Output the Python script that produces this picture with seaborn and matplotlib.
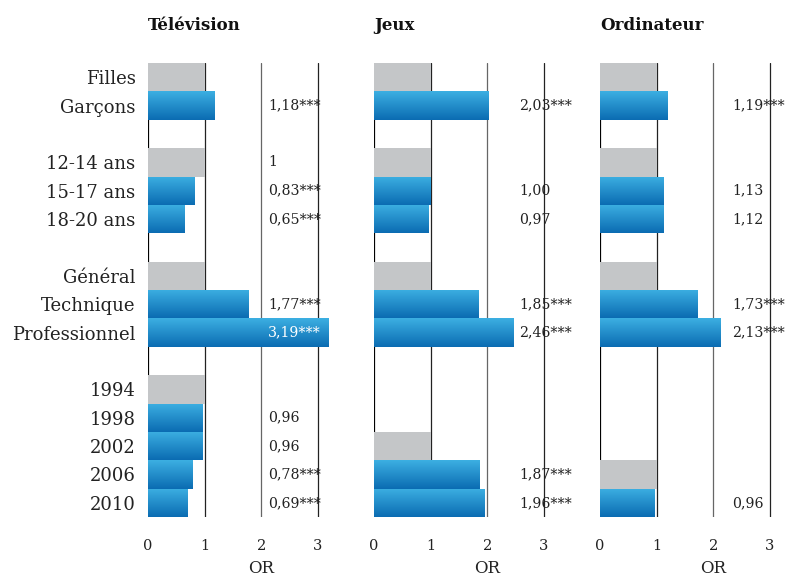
import matplotlib.pyplot as plt
import matplotlib.colors as mcolors
import numpy as np
import pandas as pd
import seaborn as sns

sns.set_theme(style="white")
plt.rcParams['font.family'] = ['DejaVu Serif']

# données (OR par catégorie)
rows = ["Filles", "Garçons", "12-14 ans", "15-17 ans", "18-20 ans",
        "Général", "Technique", "Professionnel",
        "1994", "1998", "2002", "2006", "2010"]
groups = [0, 0, 1, 1, 1, 2, 2, 2, 3, 3, 3, 3, 3]

panels = ["Télévision", "Jeux", "Ordinateur"]
tv_or = [1, 1.18, 1, 0.83, 0.65, 1, 1.77, 3.19, 1, 0.96, 0.96, 0.78, 0.69]
jeux_or = [1, 2.03, 1, 1.00, 0.97, 1, 1.85, 2.46, np.nan, np.nan, 1, 1.87, 1.96]
ordi_or = [1, 1.19, 1, 1.13, 1.12, 1, 1.73, 2.13, np.nan, np.nan, np.nan, 1, 0.96]

tv_ref = [1, 0, 1, 0, 0, 1, 0, 0, 1, 0, 0, 0, 0]
jeux_ref = [1, 0, 1, 0, 0, 1, 0, 0, 0, 0, 1, 0, 0]
ordi_ref = [1, 0, 1, 0, 0, 1, 0, 0, 0, 0, 0, 1, 0]

tv_lab = ["", "1,18***", "1", "0,83***", "0,65***", "", "1,77***", "3,19***",
          "", "0,96", "0,96", "0,78***", "0,69***"]
jeux_lab = ["", "2,03***", "", "1,00", "0,97", "", "1,85***", "2,46***",
            "", "", "", "1,87***", "1,96***"]
ordi_lab = ["", "1,19***", "", "1,13", "1,12", "", "1,73***", "2,13***",
            "", "", "", "", "0,96"]

values = [tv_or, jeux_or, ordi_or]
refs = [tv_ref, jeux_ref, ordi_ref]
labels = [tv_lab, jeux_lab, ordi_lab]
label_x = [2.12, 2.57, 2.33]

GREY = "#c4c6c8"
BLUE = "#1f8bcc"
grad = mcolors.LinearSegmentedColormap.from_list("bleu", ["#3cafe2", "#0b6cb2"])

# ordre avec lignes vides entre les groupes
order = []
for i, r in enumerate(rows):
    if i > 0 and groups[i] != groups[i - 1]:
        order.append(" " * groups[i])
    order.append(r)

XMAX = 3.3
UNIT = 56.6  # pixels par unité d'OR
fig = plt.figure(figsize=(7.85, 5.8), dpi=100)
lefts = [148 / 785, 374 / 785, 600 / 785]

for k in range(3):
    ax = fig.add_axes([lefts[k], 1 - 517 / 580, XMAX * UNIT / 785, 454 / 580])
    df = pd.DataFrame({"row": rows, "OR": values[k],
                       "type": ["ref" if r else "est" for r in refs[k]]})
    df = df.dropna()
    sns.barplot(data=df, x="OR", y="row", hue="type", order=order,
                palette={"ref": GREY, "est": BLUE}, dodge=False, width=1.0,
                saturation=1, legend=False, ax=ax, zorder=2, linewidth=0)

    # dégradé sur les barres bleues
    for p in list(ax.patches):
        if mcolors.to_hex(p.get_facecolor()) == BLUE and p.get_width() > 0:
            x0, y0 = p.get_x(), p.get_y()
            w, h = p.get_width(), p.get_height()
            im = ax.imshow(np.linspace(0, 1, 64).reshape(-1, 1), cmap=grad,
                           aspect="auto", extent=[x0, x0 + w, y0 + h, y0],
                           zorder=3)
            im.set_clip_path(p)

    ax.set_xlim(0, XMAX)
    ax.set_ylim(len(order) - 0.5, -0.5)
    ax.axvline(0, color="black", lw=1.6, zorder=1)
    for xv, c in [(1, "#222222"), (2, "#666666"), (3, "#222222")]:
        ax.axvline(xv, color=c, lw=0.9, zorder=1)

    for i, r in enumerate(rows):
        if labels[k][i]:
            col = "white" if (k == 0 and r == "Professionnel") else "#222222"
            ax.text(label_x[k], order.index(r), labels[k][i], ha="left",
                    va="center", fontsize=10.2, color=col, zorder=5, clip_on=False)

    sns.despine(ax=ax, left=True, bottom=True)
    ax.set_xticks([0, 1, 2, 3])
    ax.set_xticklabels(["0", "1", "2", "3"])
    ax.tick_params(axis="x", length=0, pad=16, labelsize=10.5, colors="#222222")
    ax.set_xlabel("OR", fontsize=12, color="#222222")
    ax.xaxis.set_label_coords(2 / XMAX, -0.095)
    ax.set_ylabel("")
    if k == 0:
        ax.tick_params(axis="y", length=0, pad=9, labelsize=13, colors="#222222")
    else:
        ax.set_yticklabels([])
        ax.tick_params(axis="y", length=0)
    ax.set_title(panels[k], loc="left", fontsize=12, fontweight="bold",
                 pad=24, color="#111111")

fig.savefig("out.png", dpi=100)
